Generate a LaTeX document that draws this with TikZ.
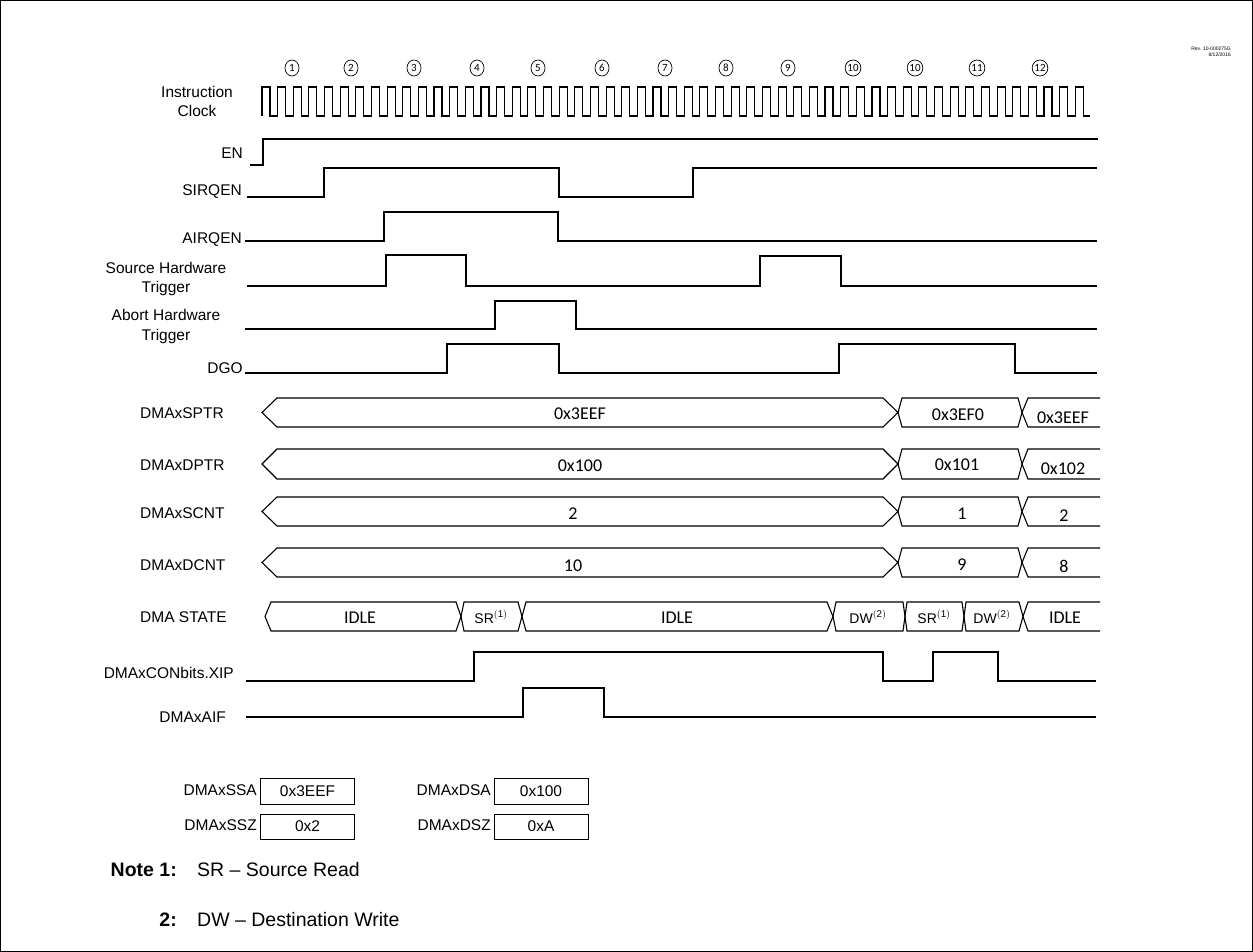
\documentclass[tikz,border=0pt]{standalone}
\usepackage{fontspec}
\setmainfont{Liberation Sans}
\newfontfamily\calib{Carlito}
\usetikzlibrary{shapes.geometric}
\newcommand\busbox[6]{\draw[sig] (#3,{(#1+#2)/2}) -- (#4,#1) -- (#5,#1) -- (#6,{(#1+#2)/2}) -- (#5,#2) -- (#4,#2) -- cycle;}
\newcommand\busopen[5]{\draw[sig] (#5,#1) -- (#4,#1) -- (#3,{(#1+#2)/2}) -- (#4,#2) -- (#5,#2);}
\begin{document}
\begin{tikzpicture}[x=1pt,y=-1pt,
  sig/.style={line width=1.1pt, line join=miter},
  lab/.style={font=\fontsize{15.5}{17}\selectfont, inner sep=0pt, text height=11pt, text depth=0pt},
  val/.style={font=\calib\fontsize{18}{20}\selectfont, inner sep=0pt, text height=11.6pt, text depth=0pt},
  st/.style={font=\fontsize{14}{16}\selectfont, inner sep=0pt, text height=10pt, text depth=0pt},
  num/.style={ellipse, draw, line width=0.7pt, minimum width=14pt, minimum height=16pt, inner sep=0pt, font=\calib\fontsize{11}{12}\selectfont},
  rev/.style={font=\fontsize{5}{6}\selectfont, inner sep=0pt},
  regbox/.style={draw, line width=0.9pt, minimum width=94pt, minimum height=26pt, inner sep=0pt, font=\fontsize{15.5}{17}\selectfont},
  note/.style={font=\fontsize{19.5}{22}\selectfont, inner sep=0pt}]
\useasboundingbox (0,0) rectangle (1253,952);
\draw[line width=1pt] (0.5,0.5) rectangle (1252.5,951.5);

% revision
\node[rev, anchor=east] (rev1) at (1231,49) {Rev. 10-000275G};
\node[rev, anchor=east] (rev2) at (1231,55) {8/12/2016};

% cycle numbers
\foreach \n/\x [count=\i] in {1/292,2/351,3/414,4/477,5/538,6/602,7/665,8/726,9/788,10/853,10/915,11/977,12/1040}
  \node[num] (c\i) at (\x,68) {\n};

% labels
\node[lab] (lclk1) at (197,92) {Instruction};
\node[lab] (lclk2) at (197,111) {Clock};
\node[lab, anchor=east] (len) at (243,153) {EN};
\node[lab, anchor=east] (lsirq) at (242,190.5) {SIRQEN};
\node[lab, anchor=east] (lairq) at (242,238) {AIRQEN};
\node[lab] (lsrc1) at (166,268) {Source Hardware};
\node[lab] (lsrc2) at (166,287) {Trigger};
\node[lab] (labt1) at (166,315) {Abort Hardware};
\node[lab] (labt2) at (166,335) {Trigger};
\node[lab, anchor=east] (ldgo) at (243,367.5) {DGO};
\node[lab, anchor=west] (lsptr) at (140,412.5) {DMAxSPTR};
\node[lab, anchor=west] (ldptr) at (140,464.5) {DMAxDPTR};
\node[lab, anchor=west] (lscnt) at (140,512.5) {DMAxSCNT};
\node[lab, anchor=west] (ldcnt) at (140,564.5) {DMAxDCNT};
\node[lab, anchor=west] (lstate) at (140,616.5) {DMA STATE};
\node[lab, anchor=east] (lxip) at (234,672.5) {DMAxCONbits.XIP};
\node[lab, anchor=east] (laif) at (226,716.5) {DMAxAIF};

% clock
\draw[sig] (262,116) \foreach \k in {0,...,52}{ -- ({262+\k*15.64},116) -- ({262+\k*15.64},87) -- ({270+\k*15.64},87) -- ({270+\k*15.64},116)} -- (1090,116);

% digital signals
\draw[sig] (250,165) -- (263,165) -- (263,139) -- (1098,139);
\draw[sig] (247,197) -- (324,197) -- (324,168) -- (559,168) -- (559,197) -- (693,197) -- (693,168) -- (1097,168);
\draw[sig] (245,241) -- (384,241) -- (384,212) -- (558,212) -- (558,241) -- (1097,241);
\draw[sig] (247,286) -- (386,286) -- (386,255) -- (466,255) -- (466,286) -- (760,286) -- (760,256) -- (841,256) -- (841,286) -- (1097,286);
\draw[sig] (245,329) -- (495,329) -- (495,301) -- (576,301) -- (576,329) -- (1097,329);
\draw[sig] (245,373) -- (447,373) -- (447,344) -- (559,344) -- (559,373) -- (839,373) -- (839,344) -- (1015,344) -- (1015,373) -- (1097,373);
\draw[sig] (246,681) -- (474,681) -- (474,652) -- (883,652) -- (883,681) -- (933,681) -- (933,652) -- (998,652) -- (998,681) -- (1096,681);
\draw[sig] (246,717) -- (523,717) -- (523,688) -- (604,688) -- (604,717) -- (1096,717);

% buses
\busbox{398}{427}{262}{277}{883}{898}
\busbox{398}{427}{898}{902}{1018}{1022}
\busopen{398}{427}{1022}{1028}{1100}
\node[val] (sp1) at (580,414) {0x3EEF};
\node[val] (sp2) at (958,415) {0x3EF0};
\node[val] (sp3) at (1063,418) {0x3EEF};

\busbox{449}{479}{262}{277}{883}{898}
\busbox{449}{479}{898}{902}{1018}{1022}
\busopen{449}{479}{1022}{1028}{1100}
\node[val] (dp1) at (580,466) {0x100};
\node[val] (dp2) at (957,465) {0x101};
\node[val] (dp3) at (1063,468.5) {0x102};

\busbox{497}{526}{262}{277}{883}{898}
\busbox{497}{526}{898}{902}{1018}{1022}
\busopen{497}{526}{1022}{1028}{1100}
\node[val] (sc1) at (573,514) {2};
\node[val] (sc2) at (962,514) {1};
\node[val] (sc3) at (1064,515.5) {2};

\busbox{548}{577}{262}{277}{883}{898}
\busbox{548}{577}{898}{902}{1018}{1022}
\busopen{548}{577}{1022}{1028}{1100}
\node[val] (dc1) at (573,565.5) {10};
\node[val] (dc2) at (962,565) {9};
\node[val] (dc3) at (1064,567) {8};

\busbox{602}{631}{265}{271}{456}{461}
\busbox{602}{631}{461}{464}{518}{522}
\busbox{602}{631}{522}{526}{827}{833}
\busbox{602}{631}{833}{836}{903}{905}
\busbox{602}{631}{905}{907}{962}{964}
\busbox{602}{631}{964}{966}{1019}{1023}
\busopen{602}{631}{1023}{1028}{1100}
\node[val] (s1) at (360,618) {IDLE};
\node[st] (s2) at (491,618) {SR$^{\mathrm{(1)}}$};
\node[val] (s3) at (677,618) {IDLE};
\node[st] (s4) at (868,618) {DW$^{\mathrm{(2)}}$};
\node[st] (s5) at (934,618) {SR$^{\mathrm{(1)}}$};
\node[st] (s6) at (992,618) {DW$^{\mathrm{(2)}}$};
\node[val] (s7) at (1065,618) {IDLE};

% register boxes
\node[regbox] (bssa) at (307.5,791) {0x3EEF};
\node[lab, anchor=east] (lssa) at (257,790) {DMAxSSA};
\node[regbox] (bdsa) at (541,791) {0x100};
\node[lab, anchor=east] (ldsa) at (491,790) {DMAxDSA};
\node[regbox, minimum height=25pt] (bssz) at (307.5,826.5) {0x2};
\node[lab, anchor=east] (lssz) at (257,825) {DMAxSSZ};
\node[regbox, minimum height=25pt] (bdsz) at (541,826.5) {0xA};
\node[lab, anchor=east] (ldsz) at (491,825) {DMAxDSZ};

% notes
\node[note, anchor=base east, font=\bfseries\fontsize{19.5}{22}\selectfont] (n1) at (177,876) {Note 1:};
\node[note, anchor=base west] (n1t) at (197,876) {SR -- Source Read};
\node[note, anchor=base east, font=\bfseries\fontsize{19.5}{22}\selectfont] (n2) at (177,926) {2:};
\node[note, anchor=base west] (n2t) at (197,926) {DW -- Destination Write};
\end{tikzpicture}
\end{document}
